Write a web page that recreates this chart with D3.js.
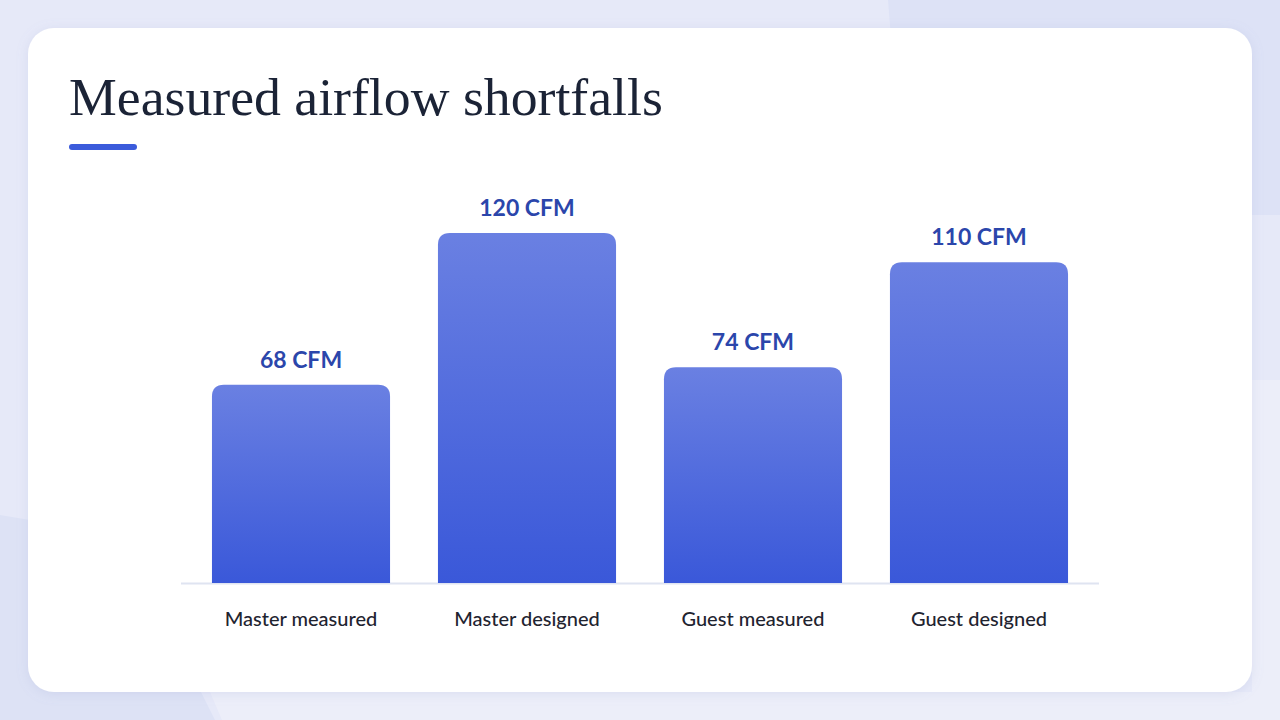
<!DOCTYPE html>
<html><head><meta charset="utf-8">
<script src="https://cdn.jsdelivr.net/npm/d3@7"></script>
<style>html,body{margin:0;padding:0;background:#e6e9f8;}svg{display:block;}</style>
</head><body>
<svg id="chart" width="1280" height="720"></svg>
<script>
const categories = ["Master measured", "Master designed", "Guest measured", "Guest designed"];
const values = [68, 120, 74, 110];
const valueLabels = ["68 CFM", "120 CFM", "74 CFM", "110 CFM"];
const title = "Measured airflow shortfalls";

const svg = d3.select("#chart");
const defs = svg.append("defs");
const grad = defs.append("linearGradient").attr("id","barGrad").attr("x1",0).attr("y1",0).attr("x2",0).attr("y2",1);
grad.append("stop").attr("offset","0%").attr("stop-color","#6a80e2");
grad.append("stop").attr("offset","100%").attr("stop-color","#3a58d9");
const sh = defs.append("filter").attr("id","shadow").attr("x","-10%").attr("y","-10%").attr("width","120%").attr("height","120%");
sh.append("feDropShadow").attr("dx",0).attr("dy",2).attr("stdDeviation",6).attr("flood-color","#8a96c8").attr("flood-opacity",0.18);

// background shapes
svg.append("rect").attr("width",1280).attr("height",720).attr("fill","#e6e9f8");
svg.append("path").attr("d","M888,0 L1280,0 L1280,215 L905,215 Z").attr("fill","#dde2f6");
svg.append("path").attr("d","M0,515 L60,525 L200,690 L215,720 L0,720 Z").attr("fill","#dde2f5");
svg.append("path").attr("d","M210,692 L1280,692 L1280,720 L222,720 Z").attr("fill","#eceef9");
svg.append("path").attr("d","M1252,380 L1280,380 L1280,720 L1252,720 Z").attr("fill","#eceef9");

// card
svg.append("rect").attr("x",28).attr("y",28).attr("width",1224).attr("height",664).attr("rx",26).attr("fill","#ffffff").attr("filter","url(#shadow)");

// title
const t = svg.append("text").attr("x",69).attr("y",115).attr("fill","#1b2336")
  .style("font-family","'Liberation Serif','DejaVu Serif',serif").style("font-size","48px").text(title);
const tw = t.node().getComputedTextLength();
t.style("font-size", (48*594/tw).toFixed(2)+"px");
svg.append("rect").attr("x",69).attr("y",144).attr("width",68).attr("height",6).attr("rx",3).attr("fill","#3b5bdb");

// scales
const x = d3.scaleBand().domain(categories).range([181,1099]).paddingInner(0.212).paddingOuter(0.137);
const y = d3.scaleLinear().domain([0,120]).range([583,233]);

// axis baseline
svg.append("line").attr("x1",181).attr("x2",1099).attr("y1",583.5).attr("y2",583.5).attr("stroke","#dfe4f1").attr("stroke-width",2);

const r = 12;
function barPath(x0,w,yt,yb){
  return `M${x0},${yb} L${x0},${yt+r} Q${x0},${yt} ${x0+r},${yt} L${x0+w-r},${yt} Q${x0+w},${yt} ${x0+w},${yt+r} L${x0+w},${yb} Z`;
}
const g = svg.append("g");
g.selectAll("path.bar").data(values).join("path").attr("class","bar")
  .attr("d",(d,i)=>barPath(x(categories[i]), x.bandwidth(), y(d), y(0)))
  .attr("fill","url(#barGrad)");

g.selectAll("text.val").data(values).join("text").attr("class","val")
  .attr("x",(d,i)=>x(categories[i])+x.bandwidth()/2).attr("y",d=>y(d)-17)
  .attr("text-anchor","middle").attr("fill","#2b46ab")
  .style("font-family","Lato,'Noto Sans',sans-serif").style("font-weight","700").style("font-size","23px")
  .text((d,i)=>valueLabels[i]);

g.selectAll("text.cat").data(categories).join("text").attr("class","cat")
  .attr("x",d=>x(d)+x.bandwidth()/2).attr("y",626)
  .attr("text-anchor","middle").attr("fill","#1f2430")
  .style("font-family","Lato,'Noto Sans',sans-serif").style("font-weight","500").style("font-size","20px")
  .text(d=>d);
</script>
</body></html>
